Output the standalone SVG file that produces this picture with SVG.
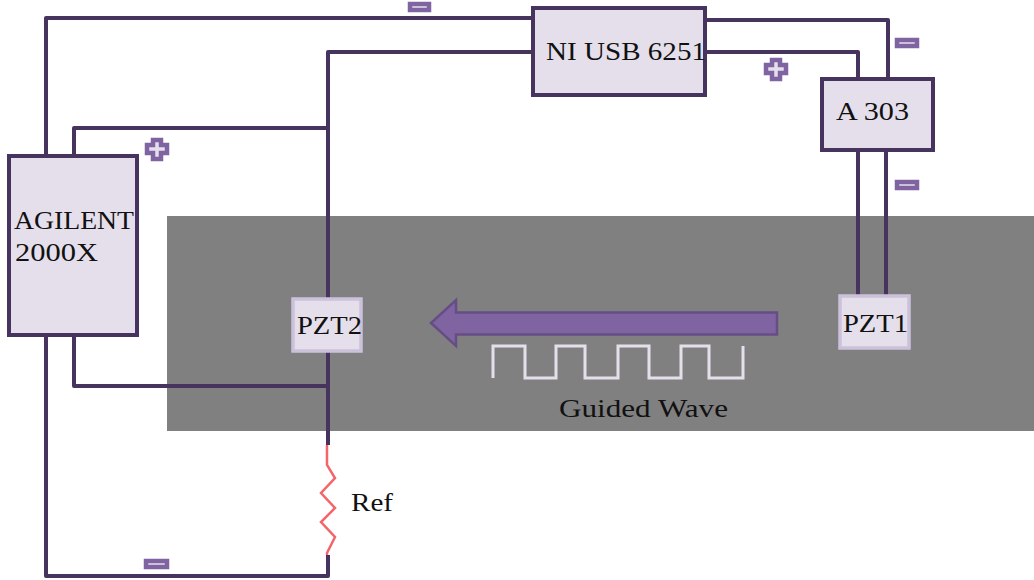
<svg xmlns="http://www.w3.org/2000/svg" width="1034" height="580" viewBox="0 0 1034 580">
<style>
.box{fill:#e5dfec;stroke:#46345f;stroke-width:4}
.pzt{fill:#e5dfec;stroke:#ccc1da;stroke-width:3.5}
.wire{fill:none;stroke:#46345f;stroke-width:4;stroke-linejoin:round}
.sign{fill:#e5dfec;stroke:#8064a2;stroke-width:4.500}
text{font-family:"Liberation Serif","Times New Roman",serif;font-size:26px;fill:#111}
</style>
<rect id="plate" x="167" y="216" width="867" height="215" fill="#808080"/>
<g id="connectors">
<path class="wire" d="M532 18H46V156"/>
<path class="wire" d="M532 52H328V298"/>
<path class="wire" d="M328 128H74V156"/>
<path class="wire" d="M705 20H888V78"/>
<path class="wire" d="M705 52H858V78"/>
<path class="wire" d="M858 150V295"/>
<path class="wire" d="M886 150V295"/>
<path class="wire" d="M46 335V576H328V555"/>
<path class="wire" d="M74 335V386H328"/>
<path class="wire" d="M328 352V445"/>
<path id="ref-resistor" fill="none" stroke="#f4656b" stroke-width="2.500" d="M327 445V465L335 478L321 493L335 508L321 522L335 537L327 553V555"/>
</g>
<g id="ni-usb"><rect class="box" x="533" y="8" width="172" height="87"/><text x="546" y="60" textLength="160" lengthAdjust="spacingAndGlyphs">NI USB 6251</text></g>
<g id="a303"><rect class="box" x="822" y="79" width="111" height="71"/><text x="836" y="120" textLength="73" lengthAdjust="spacingAndGlyphs">A 303</text></g>
<g id="agilent"><rect class="box" x="9" y="156" width="128" height="179"/><text x="14" y="229" textLength="120" lengthAdjust="spacingAndGlyphs">AGILENT</text><text x="15" y="261" textLength="83" lengthAdjust="spacingAndGlyphs">2000X</text></g>
<g id="pzt2"><rect class="pzt" x="293" y="299" width="68" height="52"/><text x="297" y="334" textLength="65" lengthAdjust="spacingAndGlyphs">PZT2</text></g>
<g id="pzt1"><rect class="pzt" x="840" y="296" width="69" height="52"/><text x="843" y="332" textLength="65" lengthAdjust="spacingAndGlyphs">PZT1</text></g>
<g id="wave-arrow"><path d="M777 312.500V334.500H456V346L431 323L456 300V312.500Z" fill="#8064a2" stroke="#654e85" stroke-width="2.500"/></g>
<g id="wave"><path fill="none" stroke="#e5dfec" stroke-width="3" d="M493 378V346H525V378H556V346H585V378H618V346H649V378H681V346H709V378H743V346"/><text x="559" y="417" textLength="169" lengthAdjust="spacingAndGlyphs">Guided Wave</text></g>
<text id="ref" x="351" y="511" textLength="42" lengthAdjust="spacingAndGlyphs">Ref</text>
<g id="signs">
<rect class="sign" x="410" y="4" width="19" height="6"/>
<rect class="sign" x="897" y="40" width="20" height="6"/>
<rect class="sign" x="897" y="182" width="20" height="6"/>
<rect class="sign" x="146" y="561" width="21" height="6"/>
<path class="sign" d="M772 60H780V65H786V73H780V79H772V73H766V65H772Z"/>
<path class="sign" d="M153 140H161V145H167V153H161V159H153V153H147V145H153Z"/>
</g>
</svg>
